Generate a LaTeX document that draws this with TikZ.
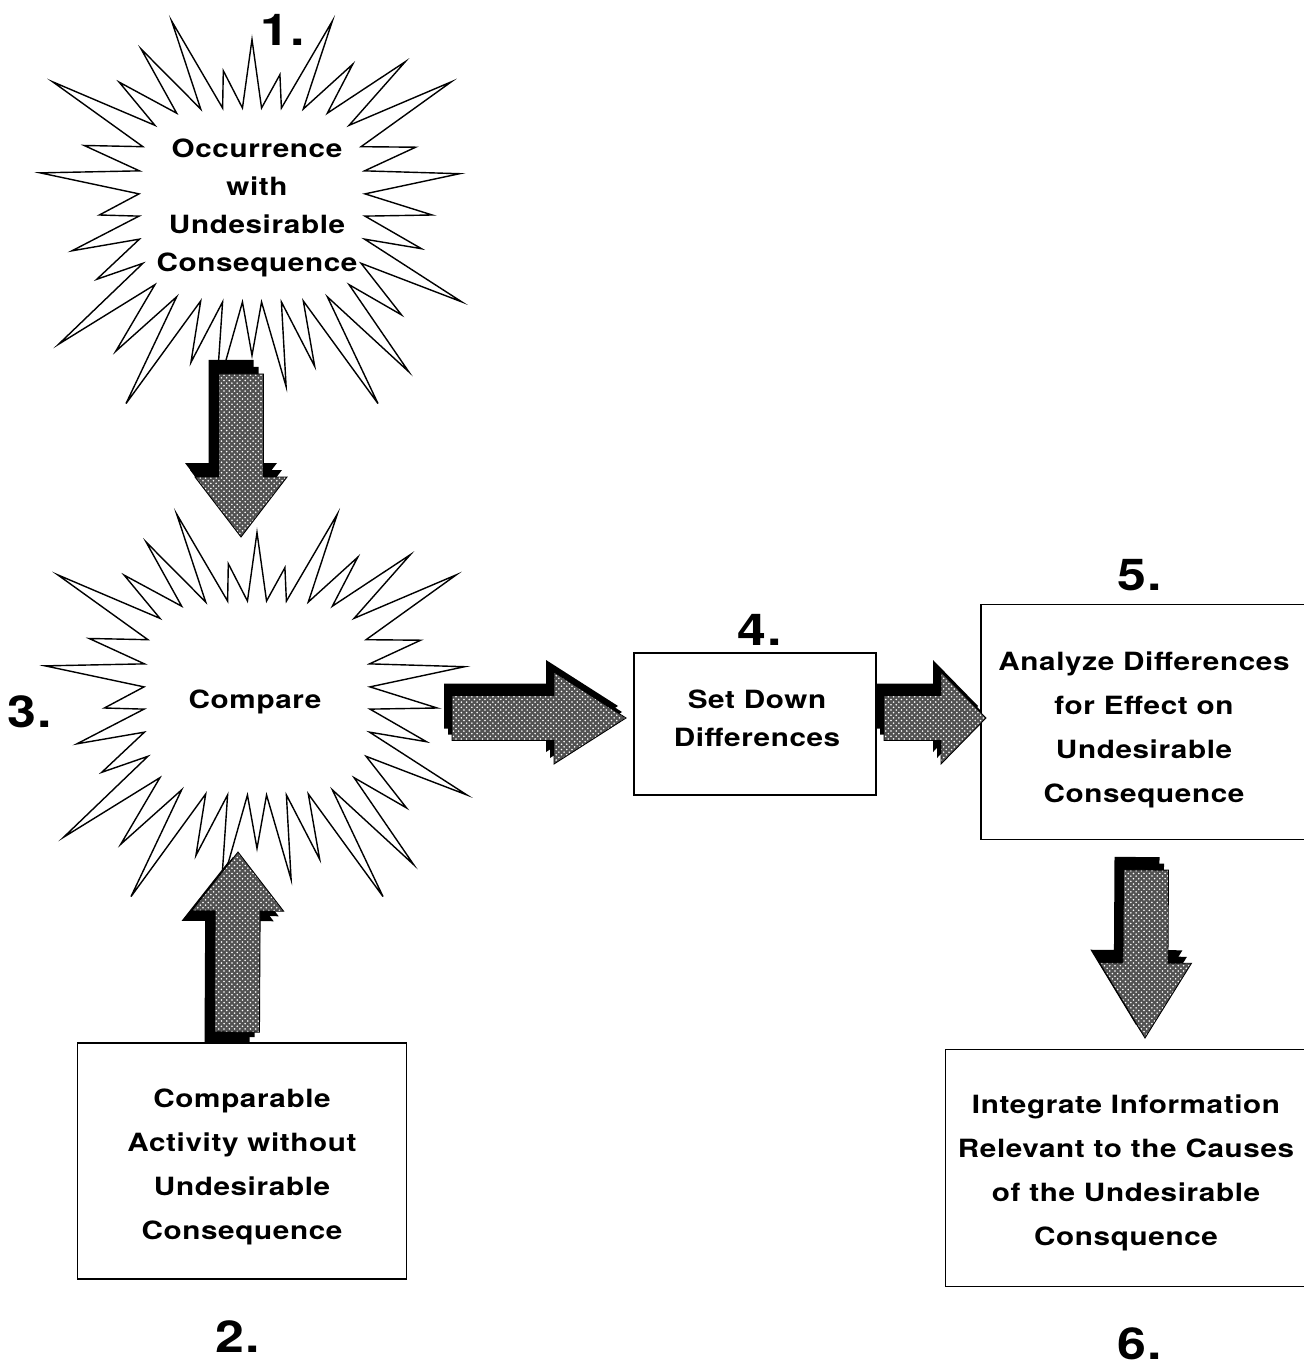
\documentclass[tikz,border=0pt]{standalone}
\usepackage{fontspec}
\setmainfont{TeX Gyre Heros}[FakeStretch=1.18,LetterSpace=2.5]
\usetikzlibrary{calc,patterns}

\newcommand{\boxfont}{\fontsize{14.3}{25}\selectfont\bfseries}
\newcommand{\burstfont}{\fontsize{14.3}{21.6}\selectfont\bfseries}
\newcommand{\numfont}{\fontsize{25}{28}\selectfont\bfseries}
\newcommand{\shaftw}{4.5mm}
\newcommand{\headw}{9.2mm}

% spiky outline round a centre
\newcommand{\starburst}[1]{%
  \draw[burst] ($(#1)+(180,0)$)
    \foreach \ta/\tf [evaluate=\ta as \tv using \ta-5.625] in
      {11.25/.80,22.5/1,33.75/.75,45/.92,56.25/1,67.5/.78,78.75/.88,90/.72,
       101.25/.92,112.5/.76,123.75/1,135/.80,146.25/.97,157.5/.74,168.75/.85,180/.72,
       191.25/1,202.5/.80,213.75/1,225/.78,236.25/.88,247.5/1,258.75/.74,270/.90,
       281.25/.72,292.5/1,303.75/.80,315/.90,326.25/1,337.5/.78,348.75/.98,360/.85}
      { -- ($(#1)+(0,-10)+({sq(\tv,113,97)*cos(\tv)},{sq(\tv,113,97)*sin(\tv)})$)
        -- ($(#1)+({\tf*sq(\ta,212,195)*cos(\ta)},{\tf*sq(\ta,212,195)*sin(\ta)})$) }
    -- cycle;}

% block arrow on (t) -> (p), head base (hb)
\newcommand{\arrowpoly}[1]{%
  \fill[#1] ($(t)!\shaftw!90:(p)$) -- ($(hb)!\shaftw!90:(p)$) -- ($(hb)!\headw!90:(p)$)
    -- (p) -- ($(hb)!\headw!-90:(p)$) -- ($(hb)!\shaftw!-90:(p)$) -- ($(t)!\shaftw!-90:(p)$) -- cycle;}
% #1 head length, #2 shadow shift, #3 tail, #4 tip
\newcommand{\fatarrow}[4]{%
  \foreach \k in {1,0.5} {
    \coordinate (t) at ($(#3)+\k*(#2)$);
    \coordinate (p) at ($(#4)+\k*(#2)$);
    \coordinate (hb) at ($(p)!#1!(t)$);
    \arrowpoly{arrowback}
  }
  \coordinate (t) at (#3);
  \coordinate (p) at (#4);
  \coordinate (hb) at ($(p)!#1!(t)$);
  \arrowpoly{arrowfront}}

\begin{document}
\begin{tikzpicture}[x=0.2mm,y=-0.2mm,
    declare function={sq(\ang,\ra,\rb)=\ra/((abs(cos(\ang)))^4+(abs(sin(\ang))*\ra/\rb)^4)^0.25;},
    burst/.style={draw,line width=0.8pt,fill=white},
    boxed/.style={draw,line width=1pt,inner sep=0pt},
    boxtext/.style={align=center,font=\boxfont},
    bursttext/.style={align=center,font=\burstfont},
    numlabel/.style={font=\numfont},
    arrowback/.style={fill=black},
    arrowfront/.style={draw=black,line width=0.5pt,preaction={fill=black!68},
      pattern=crosshatch dots,pattern color=white}]
  \clip (0,0) rectangle (1304,1369);
  \coordinate (c1) at (252,215);
  \coordinate (c3) at (257,708);
  \starburst{c1}
  \starburst{c3}
  \node[bursttext] (occ) at (257,208) {Occurrence\\with\\Undesirable\\Consequence};
  \node[bursttext] (cmp) at (255,702) {Compare};
  % boxes
  \node[boxed,minimum width=65.8mm,minimum height=47.2mm] (cmpact) at (242,1161) {};
  \node[boxed,minimum width=48.4mm,minimum height=28.4mm] (setdown) at (755,724) {};
  \node[boxed,minimum width=66mm,minimum height=47mm] (analyze) at (1146,722) {};
  \node[boxed,minimum width=73.4mm,minimum height=47.4mm] (integrate) at (1129,1168) {};
  \node[boxtext] (cmpacttxt) at (242,1167) {Comparable\\Activity without\\Undesirable\\Consequence};
  \node[bursttext] (setdowntxt) at (757,718) {Set Down\\Differences};
  \node[boxtext] (analyzetxt) at (1144,730) {Analyze Differences\\for Effect on\\Undesirable\\Consequence};
  \node[boxtext] (integratetxt) at (1126,1173) {Integrate Information\\Relevant to the Causes\\of the Undesirable\\Consquence};
  % step numbers
  \node[numlabel] (n1) at (283,30) {1.};
  \node[numlabel] (n2) at (238,1337) {2.};
  \node[numlabel] (n3) at (30,712) {3.};
  \node[numlabel] (n4) at (760,630) {4.};
  \node[numlabel] (n5) at (1140,575) {5.};
  \node[numlabel] (n6) at (1140,1344) {6.};
  % arrows
  \coordinate (a1t) at (241,374);  \coordinate (a1p) at (241,537);
  \coordinate (a2t) at (237,1032); \coordinate (a2p) at (238,852);
  \coordinate (a3t) at (452,718);  \coordinate (a3p) at (626,718);
  \coordinate (a4t) at (884,718);  \coordinate (a4p) at (986,718);
  \coordinate (a5t) at (1146,870); \coordinate (a5p) at (1145,1038);
  \fatarrow{12mm}{-10,-14}{a1t}{a1p}
  \fatarrow{11.8mm}{-10,10}{a2t}{a2p}
  \fatarrow{14.4mm}{-8,-12}{a3t}{a3p}
  \fatarrow{9mm}{-8,-12}{a4t}{a4p}
  \fatarrow{15mm}{-9,-13}{a5t}{a5p}
\end{tikzpicture}
\end{document}
